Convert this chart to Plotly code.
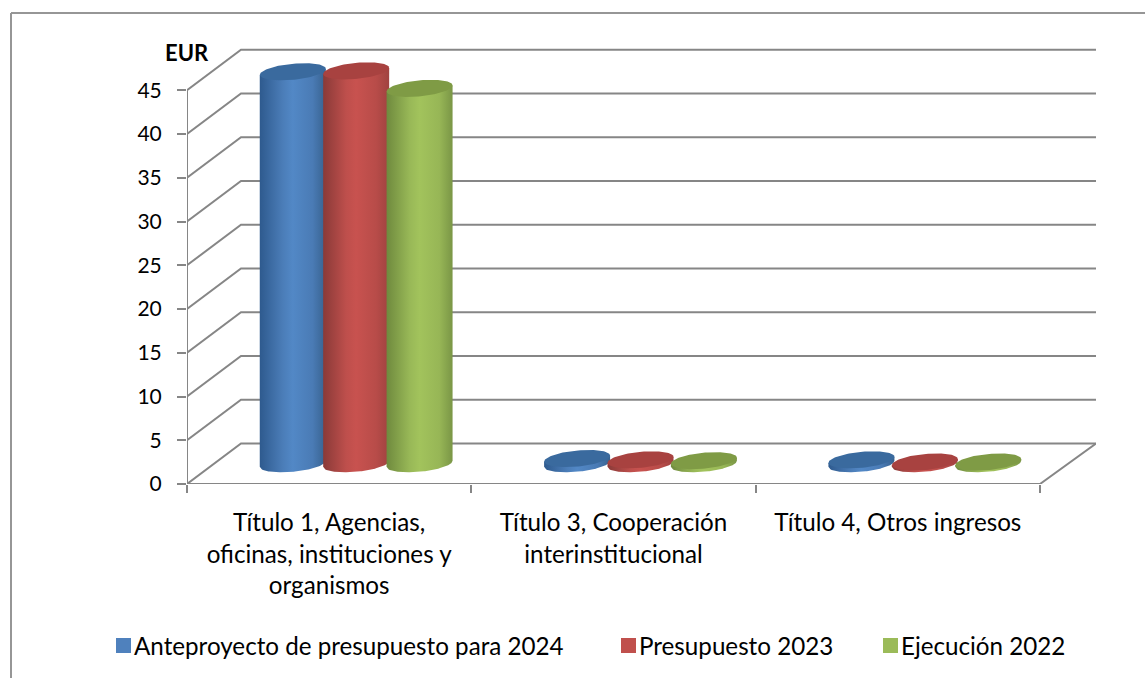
import numpy as np
import plotly.graph_objects as go

# ---- data ----
categories = ["Título 1, Agencias,<br>oficinas, instituciones y<br>organismos",
              "Título 3, Cooperación<br>interinstitucional",
              "Título 4, Otros ingresos"]
series_names = ["Anteproyecto de presupuesto para 2024", "Presupuesto 2023", "Ejecución 2022"]
anteproyecto_2024 = [44.8, 0.6, 0.45]
presupuesto_2023 = [44.9, 0.45, 0.2]
ejecucion_2022 = [42.9, 0.35, 0.2]
y_ticks = [0, 5, 10, 15, 20, 25, 30, 35, 40, 45]
y_axis_title = "EUR"

# ---- styling ----
FONT = "Lato"
W, H = 1145, 678
L, R, T, B = 187, 1096, 48, 484          # plot box in page pixels
PX_X = 284.33                            # pixels per category
PX_Y = 8.75                              # pixels per EUR
DEPTH_X = 54 / PX_X
DEPTH_Y = 40.5 / PX_Y
X_MIN, X_MAX = -0.5, -0.5 + (R - L) / PX_X
Y_MAX = (B - T) / PX_Y
GRID = "#868686"

body_scales = [
    [[0, "#2E5A8E"], [0.35, "#4B7DB8"], [0.5, "#5288C6"], [0.8, "#4A7BB5"], [1, "#38628F"]],
    [[0, "#8A3A38"], [0.35, "#BE4F4C"], [0.5, "#C8524F"], [0.8, "#B84C49"], [1, "#A04240"]],
    [[0, "#6F8A3E"], [0.35, "#98B857"], [0.5, "#A2C35C"], [0.8, "#97B656"], [1, "#7A9646"]],
]
cap_colors = ["#3A6A9E", "#A84240", "#7F9B45"]
legend_colors = ["#4F81BD", "#C0504D", "#9BBB59"]

A = 33 / PX_X      # cylinder half width
C = 8 / PX_Y       # cap half height
S = 3 / PX_Y       # cap tilt
STEP = 63.4 / PX_X # distance between cylinders

fig = go.Figure()

# walls, floor and axis lines
gx, gy = [], []
for v in y_ticks:
    gx += [X_MIN, X_MIN + DEPTH_X, X_MAX, None]
    gy += [v, v + DEPTH_Y, v + DEPTH_Y, None]
gx += [X_MIN, X_MIN, None, X_MIN, 2.5, X_MAX]
gy += [0, y_ticks[-1], None, 0, 0, DEPTH_Y]
fig.add_trace(go.Scatter(x=gx, y=gy, mode="lines", line=dict(color=GRID, width=2),
                         showlegend=False, hoverinfo="skip", cliponaxis=False))

# cylinders
all_values = [anteproyecto_2024, presupuesto_2023, ejecucion_2022]
base = DEPTH_Y / 2
u_fwd = np.linspace(-1, 1, 61)
theta = np.linspace(0, 2 * np.pi, 91)
for c in range(len(categories)):
    for s, values in enumerate(all_values):
        v = values[c]
        cx = c + DEPTH_X / 2 + (s - 1) * STEP
        xs = cx + A * u_fwd
        low = base - C * np.sqrt(1 - u_fwd ** 2) + S * u_fwd
        top = base + v + S * u_fwd
        fig.add_trace(go.Scatter(
            x=np.r_[xs, xs[::-1]], y=np.r_[low, top[::-1]],
            mode="lines", line=dict(width=0), fill="toself",
            fillgradient=dict(type="horizontal", colorscale=body_scales[s]),
            name=series_names[s], showlegend=False, hoverinfo="name"))
        fig.add_trace(go.Scatter(
            x=cx + A * np.cos(theta),
            y=base + v + S * np.cos(theta) + C * np.sin(theta),
            mode="lines", line=dict(width=0), fill="toself", fillcolor=cap_colors[s],
            name=series_names[s], showlegend=False, hoverinfo="name"))

def px(x):
    return (x - L) / (R - L)

def py(y):
    return (B - y) / (B - T)

shapes = [
    dict(type="line", xref="paper", yref="paper", x0=px(11), x1=px(W), y0=py(13), y1=py(13),
         line=dict(color="#969696", width=2)),
    dict(type="line", xref="paper", yref="paper", x0=px(11), x1=px(11), y0=py(13), y1=py(H),
         line=dict(color="#969696", width=2)),
]
annotations = [dict(text=y_axis_title, xref="paper", yref="paper", x=px(163), y=py(53),
                    xanchor="left", yanchor="middle", showarrow=False,
                    font=dict(family=FONT, size=22, color="black", weight="bold"))]

legend_x = [116, 621, 883]
for name, lx, col in zip(series_names, legend_x, legend_colors):
    shapes.append(dict(type="rect", xref="paper", yref="paper", x0=px(lx), x1=px(lx + 15),
                       y0=py(653), y1=py(638), fillcolor=col, line=dict(width=0)))
    annotations.append(dict(text=name, xref="paper", yref="paper", x=px(lx + 16), y=py(645),
                            xanchor="left", yanchor="middle", showarrow=False,
                            font=dict(family=FONT, size=24.2, color="black")))

fig.update_layout(
    width=W, height=H, autosize=False,
    margin=dict(l=L, r=W - R, t=T, b=H - B, pad=0),
    paper_bgcolor="white", plot_bgcolor="white", showlegend=False,
    font=dict(family=FONT, size=21, color="black"),
    shapes=shapes, annotations=annotations,
    xaxis=dict(range=[X_MIN, X_MAX], tickmode="array", tickvals=list(range(len(categories))),
               ticktext=categories, ticks="", showgrid=False, zeroline=False, showline=False,
               ticklabelstandoff=22, tickangle=0, tickfont=dict(family=FONT, size=24.2, color="black"),
               minor=dict(tickmode="array", tickvals=[-0.5, 0.5, 1.5, 2.5], ticks="outside",
                          ticklen=8, tickwidth=2, tickcolor=GRID, showgrid=False)),
    yaxis=dict(range=[0, Y_MAX], tickmode="array", tickvals=y_ticks, ticks="outside",
               ticklen=9, tickwidth=2, tickcolor=GRID, showgrid=False, zeroline=False, showline=False,
               ticklabelstandoff=11, tickfont=dict(family=FONT, size=21, color="black")),
)

fig.write_html("out.html", config=dict(displayModeBar=False),
               post_script="document.body.style.margin='0';")
